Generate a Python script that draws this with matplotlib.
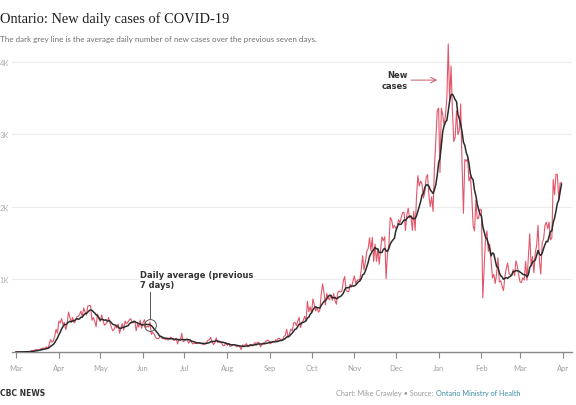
import numpy as np
import pandas as pd
import matplotlib
matplotlib.use("Agg")
import matplotlib.pyplot as plt
import matplotlib.dates as mdates

# daily new cases, Ontario, 1 Mar 2020 .. 31 Mar 2021
mar20 = [0, 0, 2, 2, 3, 1, 5, 3, 2, 4, 5, 17, 20, 19, 32, 32, 24, 28, 44, 50,
         56, 49, 72, 50, 100, 170, 135, 151, 211, 313, 260]
apr20 = [426, 401, 462, 375, 408, 309, 379, 550, 478, 411, 478, 401, 421, 483, 494,
         514, 564, 485, 606, 551, 510, 634, 640, 640, 437, 476, 424, 347, 525, 459]
may20 = [421, 511, 434, 370, 387, 412, 477, 399, 346, 294, 308, 361, 329, 388, 258,
         340, 391, 304, 427, 390, 413, 441, 460, 412, 404, 427, 292, 383, 344, 441, 326]
jun20 = [404, 446, 338, 356, 344, 415, 243, 270, 251, 203, 184, 182, 203, 215, 184,
         190, 173, 177, 164, 178, 206, 190, 163, 160, 189, 111, 178, 161, 257, 142]
jul20 = [153, 178, 165, 121, 154, 138, 112, 118, 118, 116, 130, 129, 116, 111, 102,
         111, 135, 164, 165, 203, 135, 103, 130, 195, 129, 138, 137, 119, 86, 89, 134]
aug20 = [91, 123, 76, 86, 95, 102, 88, 70, 90, 72, 33, 95, 91, 99, 115, 70, 100, 103,
         80, 104, 131, 108, 136, 129, 71, 98, 125, 128, 148, 163, 158]
sep20 = [114, 125, 148, 132, 169, 158, 190, 185, 149, 170, 213, 232, 313, 204, 251,
         315, 293, 401, 407, 365, 425, 478, 335, 409, 435, 491, 435, 700, 554, 625]
oct20 = [538, 732, 653, 566, 615, 548, 580, 797, 939, 821, 649, 807, 746, 721, 783,
         712, 805, 704, 658, 821, 841, 826, 841, 978, 1042, 851, 834, 834, 934, 896, 977]
nov20 = [1050, 948, 987, 998, 1003, 1132, 1328, 1132, 1242, 1388, 1426, 1575, 1396,
         1581, 1248, 1487, 1249, 1417, 1210, 1418, 1588, 1534, 1589, 1009, 1373, 1478,
         1855, 1822, 1708, 1746]
dec20 = [1707, 1723, 1824, 1780, 1859, 1924, 1925, 1676, 1890, 1983, 1848, 1873, 1677,
         1940, 1677, 2139, 2432, 2290, 2357, 2316, 2123, 2202, 2408, 2447, 2159, 2005,
         2142, 1939, 2553, 2923, 3328]
jan21 = [3363, 2476, 3363, 3270, 3128, 3266, 3519, 4249, 3443, 3945, 3338, 2903, 2961,
         3326, 2998, 3056, 3422, 2578, 1913, 2655, 2632, 2662, 2359, 2417, 2154, 1740,
         1670, 2093, 1837, 1848, 1969]
feb21 = [1958, 745, 1172, 1563, 1670, 1388, 1489, 1265, 1022, 1072, 945, 1076, 1300,
         964, 981, 904, 847, 1038, 1150, 1228, 1087, 1058, 1054, 1138, 1054, 1258, 1185, 1062]
mar21 = [966, 958, 1023, 994, 1250, 990, 1299, 1631, 1185, 1316, 1092, 1371, 1468, 1747,
         1268, 1074, 1508, 1553, 1745, 1791, 1699, 1791, 1546, 1571, 2380, 2169, 2453,
         2448, 2094, 2336, 2333]

cases = (mar20 + apr20 + may20 + jun20 + jul20 + aug20 + sep20 + oct20 + nov20
         + dec20 + jan21 + feb21 + mar21)
days = pd.date_range("2020-03-01", periods=len(cases), freq="D")
s = pd.Series(cases, index=days)
avg = s.rolling(7, min_periods=1).mean()   # average over previous seven days

ytick_vals = [1000, 2000, 3000, 4000]
ytick_labels = ["1K", "2K", "3K", "4K"]

W, H = 576, 406
fig = plt.figure(figsize=(W / 100, H / 100), dpi=100, facecolor="white")
ax = fig.add_axes([12 / W, (H - 353) / H, 560 / W, (353 - 40) / H])

ax.plot(days, s.values, color="#e2566a", lw=0.8, zorder=3)
ax.plot(days, avg.values, color="#2b2b2b", lw=1.1, zorder=4)

ax.set_xlim(pd.Timestamp("2020-03-01") - pd.Timedelta(days=2.9),
            pd.Timestamp("2020-03-01") + pd.Timedelta(days=402.6))
ax.set_ylim(0, 4317)

for sp in ["top", "right", "left"]:
    ax.spines[sp].set_visible(False)
ax.spines["bottom"].set_color("#8a8a8a")
ax.spines["bottom"].set_linewidth(1.0)

ax.set_yticks(ytick_vals)
ax.set_yticklabels(ytick_labels)
ax.yaxis.grid(True, color="#ececec", lw=0.8)
ax.set_axisbelow(True)
ax.tick_params(axis="y", length=0, pad=2, labelsize=5.5, labelcolor="#b0b0b0")

ax.xaxis.set_major_locator(mdates.MonthLocator())
ax.xaxis.set_major_formatter(mdates.DateFormatter("%b"))
ax.tick_params(axis="x", length=4, width=0.8, color="#8a8a8a", direction="out",
               pad=5, labelsize=5.5, labelcolor="#a0a0a0")
for lab in ax.get_xticklabels() + ax.get_yticklabels():
    lab.set_fontfamily("Lato")

# annotation: daily average
circ_x = pd.Timestamp("2020-06-06")
ax.plot([circ_x], [370], marker="o", ms=8.5, mfc="none", mec="#555555", mew=0.7, zorder=5)
ax.plot([circ_x, circ_x], [455, 830], color="#555555", lw=0.7, zorder=5)
ax.text(pd.Timestamp("2020-05-30"), 1130, "Daily average (previous\n7 days)",
        fontsize=6, fontweight="bold", color="#333333", va="top", ha="left",
        family="DejaVu Sans", linespacing=1.2,
        bbox=dict(facecolor="white", edgecolor="none", pad=0.5), zorder=6)

# annotation: new cases
ax.text(pd.Timestamp("2020-12-10"), 3750, "New\ncases", fontsize=6, fontweight="bold",
        color="#333333", va="center", ha="right", family="DejaVu Sans",
        linespacing=1.2, zorder=6)
ax.annotate("", xy=(pd.Timestamp("2020-12-31"), 3750),
            xytext=(pd.Timestamp("2020-12-12"), 3750),
            arrowprops=dict(arrowstyle="->", color="#c0606a", lw=0.7,
                            shrinkA=0, shrinkB=0), zorder=6)

fig.text(0, 1 - 23 / H, "Ontario: New daily cases of COVID-19",
         fontsize=10.4, family="Liberation Serif", color="#1e1e1e", va="baseline")
fig.text(0, 1 - 42 / H,
         "The dark grey line is the average daily number of new cases over the previous seven days.",
         fontsize=5.8, family="Lato", color="#707070", va="baseline")

fig.text(0, 1 - 396 / H, "CBC NEWS", fontsize=5.5, fontweight="bold",
         family="Liberation Sans Narrow", color="#333333", va="baseline")
t2 = fig.text(520 / W, 1 - 396 / H, "Ontario Ministry of Health", fontsize=5.2,
              family="Lato", color="#3b8ea5", ha="right", va="baseline")
fig.canvas.draw()
bb = t2.get_window_extent()
fig.text(bb.x0 / W, 1 - 396 / H, "Chart: Mike Crawley \u2022 Source: ", fontsize=5.2,
         family="Lato", color="#9a9a9a", ha="right", va="baseline")

fig.savefig("out.png", dpi=100, facecolor="white")
